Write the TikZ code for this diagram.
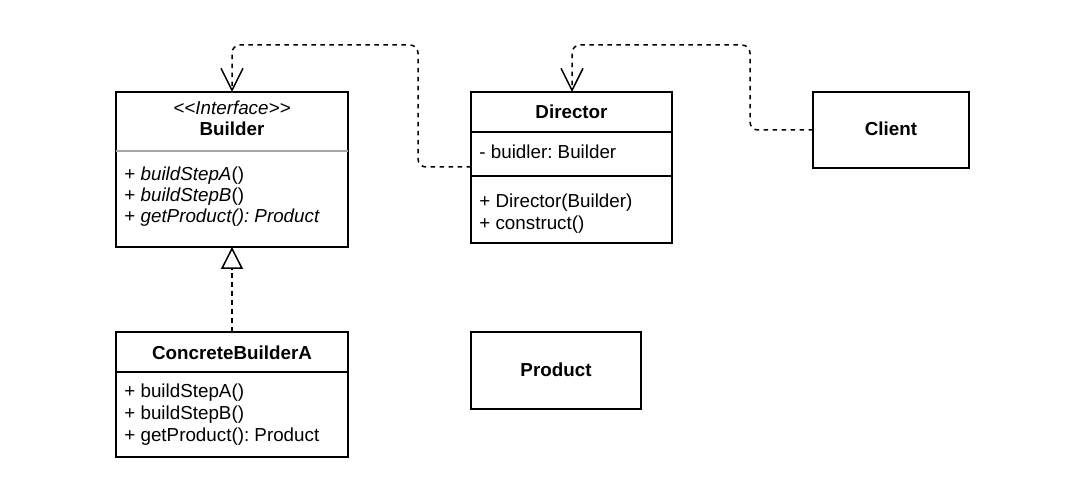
\documentclass[tikz,border=0pt]{standalone}
\usepackage{fontspec}
\setmainfont{Liberation Sans}
\frenchspacing
\usetikzlibrary{arrows.meta}
\begin{document}
\begin{tikzpicture}[x=0.5pt,y=-0.5pt,
  box/.style={draw, line width=0.75pt, inner sep=0pt, outer sep=0pt, anchor=north west},
  txt/.style={font=\fontsize{9.4}{11}\selectfont, inner sep=0pt, anchor=mid west},
  ttl/.style={font=\fontsize{9.4}{11}\selectfont\bfseries, inner sep=0pt, anchor=mid},
  sep/.style={line width=0.75pt},
  dep/.style={line width=0.75pt, dash pattern=on 2.25pt off 2.25pt, rounded corners=4pt,
    -{Straight Barb[length=11pt,width=11pt,line width=0.75pt]}},
  real/.style={line width=0.75pt, dash pattern=on 2.25pt off 2.25pt,
    -{Triangle[open,length=11pt,width=11pt,line width=0.75pt,fill=white]}}]
\useasboundingbox[fill=white] (0,0) rectangle (1072,501);

% Builder
\node[box, minimum width=116pt, minimum height=77.5pt] (builder) at (116,92) {};
\draw[line width=0.75pt, gray!70] (116,151) -- (348,151);
\node[txt, anchor=mid, font=\fontsize{9.4}{11}\selectfont\itshape] (bint) at (232,109) {<\kern0pt<Interface>\kern0pt>};
\node[ttl] (bname) at (232,130) {Builder};
\node[txt] (bm1) at (124,175) {+ \textit{buildStepA}()};
\node[txt] (bm2) at (124,196) {+ \textit{buildStepB}()};
\node[txt] (bm3) at (124,217) {+ \textit{getProduct(): Product}};

% Director
\node[box, minimum width=100.5pt, minimum height=75.5pt] (director) at (471,92) {};
\draw[sep] (471,132) -- (672,132);
\draw[sep] (471,176) -- (672,176);
\node[ttl] (dname) at (571.5,113) {Director};
\node[txt] (dattr) at (479,153) {- buidler: Builder};
\node[txt] (dm1) at (479,202) {+ Director(Builder)};
\node[txt] (dm2) at (479,224) {+ construct()};

% Client
\node[box, minimum width=78pt, minimum height=38pt] (client) at (813,92) {};
\node[ttl] (cname) at (891,130) {Client};

% ConcreteBuilderA
\node[box, minimum width=116pt, minimum height=62.5pt] (concrete) at (116,332) {};
\draw[sep] (116,372) -- (348,372);
\node[ttl] (cbname) at (232,354) {ConcreteBuilderA};
\node[txt] (cm1) at (124,392) {+ buildStepA()};
\node[txt] (cm2) at (124,414) {+ buildStepB()};
\node[txt] (cm3) at (124,436) {+ getProduct(): Product};

% Product
\node[box, minimum width=85pt, minimum height=38.5pt] (product) at (471,332) {};
\node[ttl] (pname) at (556,371) {Product};

% connectors
\draw[dep] (director.west |- 0,167) -- (418,167) -- (418,45) -- (232,45) -- (builder.north -| 232,0);
\draw[dep] (client.west) -- (750,130) -- (750,45) -- (572,45) -- (director.north -| 572,0);
\draw[real] (concrete.north) -- (builder.south);
\end{tikzpicture}
\end{document}
